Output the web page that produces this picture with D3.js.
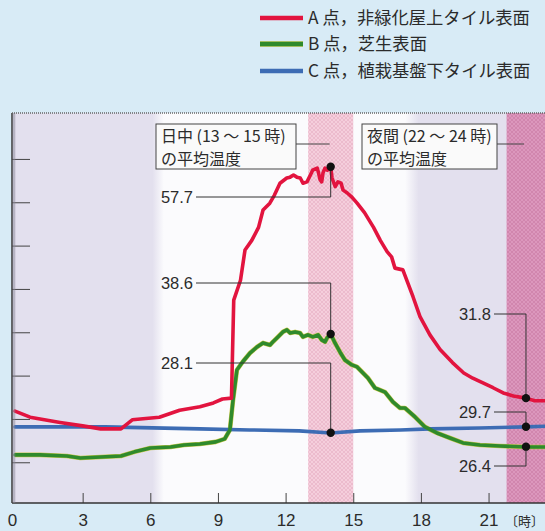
<!DOCTYPE html>
<html><head><meta charset="utf-8">
<script src="https://cdn.jsdelivr.net/npm/d3@7"></script>
<style>
html,body{margin:0;padding:0;background:#d8ebf6;}
svg{display:block;}
text{font-family:"Liberation Sans","Noto Sans CJK JP",sans-serif;fill:#2b2b2b;}
.jp{font-family:"Noto Sans CJK JP","Liberation Sans",sans-serif;}
</style></head>
<body><svg id="c" width="545" height="531"></svg>
<script>
// ---------- data ----------
const xTicks = [0, 3, 6, 9, 12, 15, 18, 21];
const yTicks = [25, 30, 35, 40, 45, 50, 55, 60];
const seriesNames = ["A 点，非緑化屋上タイル表面", "B 点，芝生表面", "C 点，植栽基盤下タイル表面"];
const seriesColors = ["#e2143f", "#2f8a2c", "#3d6cb4"];

const hoursA = [0,0.67,2.0,3.0,3.8,4.7,5.2,6.4,7.3,8.2,8.8,9.2,9.6,9.7,10.0,10.2,10.5,10.8,11.0,11.3,11.5,11.75,12.05,12.2,12.35,12.5,12.65,12.77,12.95,13.1,13.2,13.4,13.45,13.53,13.6,13.66,13.75,13.85,14.0,14.06,14.2,14.32,14.46,14.55,14.72,14.94,15.17,15.5,15.9,16.2,16.5,16.7,16.85,17.2,17.65,17.96,18.4,18.85,19.4,19.9,20.3,20.75,21.2,21.65,22.1,22.65,23.05,23.5,24];
const tempA  = [30.9,30.2,29.6,29.2,28.85,28.85,29.9,30.2,31.0,31.4,31.85,32.3,32.4,43.7,46.0,49.5,50.6,52.1,54.1,54.9,55.8,57.2,57.8,57.9,58.15,57.9,57.8,57.2,57.35,58.15,58.7,58.95,58.5,57.6,57.35,58.4,58.95,58.7,59.1,57.8,56.8,57.35,57.2,56.4,56.1,55.6,54.9,53.8,52.1,50.6,49.3,48.7,47.4,47.2,44.1,41.8,39.7,38.0,36.5,35.3,34.7,34.15,33.6,33.0,32.65,32.4,32.1,32.1,32.0];

const hoursB = [0,1.1,2.3,2.9,3.8,4.7,5.3,6.0,6.9,7.5,8.2,8.9,9.3,9.53,9.67,9.84,10.1,10.42,10.73,11.0,11.31,11.44,11.66,11.88,12.06,12.2,12.42,12.64,12.77,12.99,13.21,13.44,13.61,13.75,13.84,14.0,14.19,14.41,14.63,14.94,15.17,15.65,15.96,16.41,16.76,17.07,17.29,17.74,18.18,18.71,19.29,19.87,20.62,21.51,22.66,23.5,24];
const tempB  = [25.85,25.85,25.73,25.5,25.6,25.73,26.2,26.65,26.77,27.0,27.1,27.35,27.7,28.73,32.2,35.65,36.6,37.6,38.3,38.77,38.54,38.9,39.46,40.04,40.27,39.92,40.04,39.92,39.46,39.7,39.46,39.7,39.1,38.9,39.35,39.8,38.77,37.73,36.8,36.23,36.0,34.73,33.58,33.1,31.96,31.27,31.27,30.23,29.08,28.38,27.8,27.23,27.0,26.88,26.77,26.77,26.75];

const hoursC = [0,4.0,8.2,10.4,12.6,14.0,15.3,17.1,18.4,20.6,22.66,24];
const tempC  = [29.08,29.08,28.85,28.73,28.62,28.38,28.62,28.73,28.85,28.96,29.08,29.2];

const dayHour = 14, nightHour = 22.66;
const dayDotTemps   = [59.1, 39.8, 28.4];
const nightDotTemps = [32.4, 29.1, 26.8];
const dayLabels   = ["57.7", "38.6", "28.1"];
const nightLabels = ["31.8", "29.7", "26.4"];
const dayBoxText   = ["日中 (13 ～ 15 時)", "の平均温度"];
const nightBoxText = ["夜間 (22 ～ 24 時)", "の平均温度"];
const dayBand = [13, 15], nightBand = [21.8, 24];
const unitLabel = "〔時〕";

// ---------- layout ----------
const svg = d3.select("#c");
const plotLeft = 12, plotTop = 113, plotBottom = 503, plotRight = 545;
const x = d3.scaleLinear().domain([0, 24]).range([15, 15 + 24 * 22.55]);
const y = d3.scaleLinear().domain([20.3, 65.3]).range([plotBottom, plotTop]);

const defs = svg.append("defs");
defs.append("clipPath").attr("id", "clip").append("rect")
  .attr("x", plotLeft).attr("y", plotTop).attr("width", plotRight - plotLeft).attr("height", plotBottom - plotTop);

const lav = "#e3e0ee";
const g1 = defs.append("linearGradient").attr("id", "bgGrad").attr("gradientUnits", "userSpaceOnUse")
  .attr("x1", plotLeft).attr("x2", plotRight).attr("y1", 0).attr("y2", 0);
const W = plotRight - plotLeft;
[[plotLeft, lav], [x(6.1), lav], [x(6.6), "#fbfbfd"], [x(17.3), "#fbfbfd"], [x(17.9), lav], [plotRight, lav]]
  .forEach(([px, c]) => g1.append("stop").attr("offset", ((px - plotLeft) / W)).attr("stop-color", c));

function hatch(id, base, line) {
  const p = defs.append("pattern").attr("id", id).attr("patternUnits", "userSpaceOnUse").attr("width", 4).attr("height", 4);
  p.append("rect").attr("width", 4).attr("height", 4).attr("fill", base);
  p.append("path").attr("d", "M0,0 L4,4 M4,0 L0,4").attr("stroke", line).attr("stroke-width", 0.6);
}
hatch("hatchDay", "#f5cedc", "#e6aec3");
hatch("hatchNight", "#dc97bd", "#c97aa5");

const plot = svg.append("g").attr("clip-path", "url(#clip)");
plot.append("rect").attr("x", plotLeft).attr("y", plotTop).attr("width", W).attr("height", plotBottom - plotTop).attr("fill", "url(#bgGrad)");
plot.append("rect").attr("x", x(dayBand[0])).attr("y", plotTop).attr("width", x(dayBand[1]) - x(dayBand[0])).attr("height", plotBottom - plotTop).attr("fill", "url(#hatchDay)");
plot.append("rect").attr("x", x(nightBand[0])).attr("y", plotTop).attr("width", x(nightBand[1]) - x(nightBand[0])).attr("height", plotBottom - plotTop).attr("fill", "url(#hatchNight)");

// left y ticks
const yAxis = d3.axisLeft(y).tickValues(yTicks).tickSize(-18).tickFormat("");
const ya = svg.append("g").attr("transform", `translate(${plotLeft},0)`).call(yAxis);
ya.select(".domain").remove();
ya.selectAll("line").attr("stroke", "#444").attr("stroke-width", 1);

// x axis
const xAxis = d3.axisBottom(x).tickValues(xTicks).tickSize(-10).tickPadding(11);
const xa = svg.append("g").attr("transform", `translate(0,${plotBottom})`).call(xAxis);
xa.select(".domain").remove();
xa.selectAll("line").attr("stroke", "#444").attr("stroke-width", 1);
xa.selectAll(".tick").filter(d => d === 0).select("line").remove();
xa.selectAll("text").attr("font-size", 17).attr("fill", "#2b2b2b")
  .attr("font-family", "'Liberation Sans', sans-serif");
xa.selectAll(".tick").filter(d => d === 0).select("text").attr("x", -3);
svg.append("text").attr("class", "jp").attr("x", 505).attr("y", plotBottom + 23).attr("font-size", 13).text(unitLabel);

// frame
svg.append("line").attr("x1", plotLeft).attr("x2", plotRight).attr("y1", plotBottom).attr("y2", plotBottom).attr("stroke", "#333").attr("stroke-width", 1.6);
svg.append("line").attr("x1", plotLeft).attr("x2", plotLeft).attr("y1", plotTop).attr("y2", plotBottom).attr("stroke", "#444").attr("stroke-width", 1.6);
svg.append("rect").attr("x", plotLeft + 0.8).attr("y", plotTop).attr("width", 2.5).attr("height", plotBottom - plotTop).attr("fill", "#8a8798").attr("opacity", 0.5);
svg.append("line").attr("x1", plotLeft).attr("x2", plotRight).attr("y1", plotTop).attr("y2", plotTop).attr("stroke", "#666").attr("stroke-width", 1.5).attr("stroke-dasharray", "1,1");

// lines
const line = d3.line().x(d => x(d[0])).y(d => y(d[1])).curve(d3.curveLinear);
const series = [d3.zip(hoursC, tempC), d3.zip(hoursB, tempB), d3.zip(hoursA, tempA)];
const colsOrder = [seriesColors[2], seriesColors[1], seriesColors[0]];
plot.append("path").datum(series[1]).attr("d", line).attr("fill", "none").attr("stroke", "#c9c84a").attr("stroke-width", 4.6).attr("stroke-linejoin", "round");
series.forEach((s, i) => {
  plot.append("path").datum(s).attr("d", line).attr("fill", "none")
    .attr("stroke", colsOrder[i]).attr("stroke-width", 3.6).attr("stroke-linejoin", "round").attr("stroke-linecap", "round");
});

// annotations
const ann = svg.append("g").attr("stroke", "#333").attr("stroke-width", 1).attr("fill", "none");
const dayLabelY = [197, 283, 363];
const nightLabelY = [314, 412, 466];
dayLabels.forEach((t, i) => {
  const xd = x(dayHour), yd = y(dayDotTemps[i]);
  ann.append("path").attr("d", `M196,${dayLabelY[i]} H${xd} V${yd}`);
  svg.append("text").attr("x", 193).attr("y", dayLabelY[i]).attr("dy", "0.36em").attr("text-anchor", "end").attr("font-size", 16.5).text(t);
});
nightLabels.forEach((t, i) => {
  const xd = x(nightHour), yd = y(nightDotTemps[i]);
  ann.append("path").attr("d", `M494,${nightLabelY[i]} H${xd} V${yd}`);
  svg.append("text").attr("x", 491).attr("y", nightLabelY[i]).attr("dy", "0.36em").attr("text-anchor", "end").attr("font-size", 16.5).text(t);
});
const dots = svg.append("g");
dayDotTemps.forEach(v => dots.append("circle").attr("cx", x(dayHour)).attr("cy", y(v)).attr("r", 4.2).attr("fill", "#111"));
nightDotTemps.forEach(v => dots.append("circle").attr("cx", x(nightHour)).attr("cy", y(v)).attr("r", 4.2).attr("fill", "#111"));

// boxes
function box(x0, x1, lines, lineEnd) {
  svg.append("rect").attr("x", x0).attr("y", 124).attr("width", x1 - x0).attr("height", 45)
    .attr("fill", "#fafafa").attr("stroke", "#444").attr("stroke-width", 1);
  svg.append("line").attr("x1", x1).attr("x2", lineEnd).attr("y1", 144).attr("y2", 144).attr("stroke", "#444").attr("stroke-width", 1);
  lines.forEach((t, i) => svg.append("text").attr("class", "jp").attr("x", x0 + 5).attr("y", 136 + i * 23).attr("dy", "0.35em")
    .attr("font-size", 16).text(t));
}
box(156, 296, dayBoxText, x(dayHour) - 1);
box(362, 497, nightBoxText, x(nightHour) - 2);

// legend
const leg = svg.append("g");
const legY = [18, 44, 71];
seriesNames.forEach((n, i) => {
  if (i === 1) leg.append("line").attr("x1", 260).attr("x2", 303).attr("y1", legY[i]).attr("y2", legY[i]).attr("stroke", "#c9c84a").attr("stroke-width", 5.5);
  leg.append("line").attr("x1", 260).attr("x2", 303).attr("y1", legY[i]).attr("y2", legY[i]).attr("stroke", seriesColors[i]).attr("stroke-width", 4.5);
  leg.append("text").attr("class", "jp").attr("x", 308).attr("y", legY[i]).attr("dy", "0.36em").attr("font-size", 17.3).text(n);
});
</script></body></html>
